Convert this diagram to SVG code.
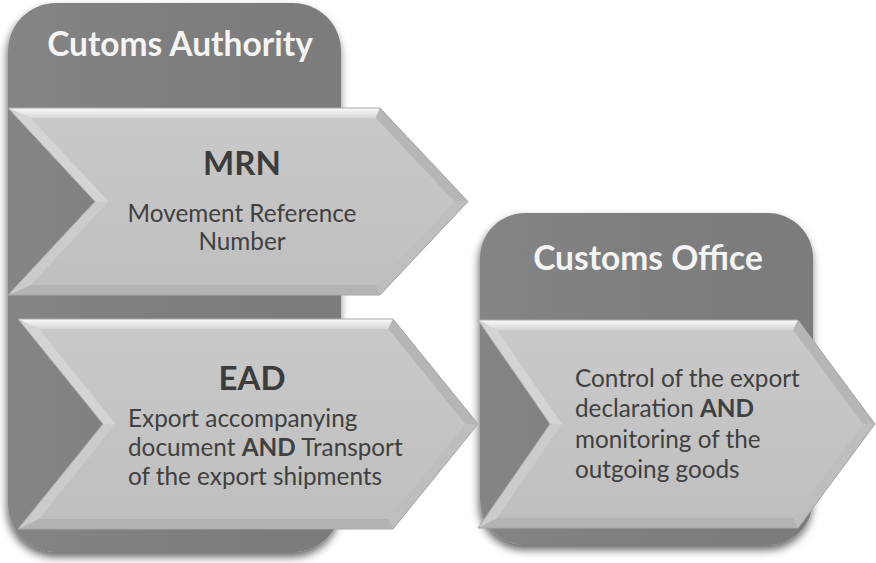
<svg xmlns="http://www.w3.org/2000/svg" width="876" height="563" viewBox="0 0 876 563">
<defs>
<style>
.hdr{font-family:Lato,"Open Sans","Liberation Sans",sans-serif;font-weight:bold;font-size:33.5px;fill:#f4f4f4;text-anchor:middle}
.ttl{font-family:Lato,"Open Sans","Liberation Sans",sans-serif;font-weight:bold;font-size:33px;fill:#3c3c3c;text-anchor:middle}
.body{font-family:Lato,"Open Sans","Liberation Sans",sans-serif;font-size:24.3px;fill:#404040}
.mid{text-anchor:middle}
.b{font-weight:bold}
.cont{fill:url(#contGrad);filter:url(#shadow)}
.face{fill:url(#faceGrad)}
.ftop{fill:url(#topGrad)}
.ful{fill:#d4d4d4}
.fll{fill:#cbcbcb}
.fur{fill:#b6b6b6}
.flr{fill:#bebebe}
.fbot{fill:#b3b3b3}
.edge{fill:none;stroke:#a8a8a8;stroke-width:1}
</style>
<linearGradient id="contGrad" x1="0" y1="0" x2="1" y2="0">
<stop offset="0" stop-color="#858585"/>
<stop offset="0.5" stop-color="#7e7e7e"/>
<stop offset="1" stop-color="#7b7b7b"/>
</linearGradient>
<linearGradient id="faceGrad" x1="0" y1="0" x2="0" y2="1">
<stop offset="0" stop-color="#c9c9c9"/>
<stop offset="1" stop-color="#bfbfbf"/>
</linearGradient>
<linearGradient id="topGrad" x1="0" y1="0" x2="0" y2="1">
<stop offset="0" stop-color="#fafafa"/>
<stop offset="1" stop-color="#d6d6d6"/>
</linearGradient>
<filter id="shadow" x="-10%" y="-10%" width="125%" height="125%">
<feGaussianBlur in="SourceAlpha" stdDeviation="4"/>
<feOffset dx="-1" dy="5" result="b"/>
<feComponentTransfer><feFuncA type="linear" slope="0.6"/></feComponentTransfer>
<feMerge><feMergeNode/><feMergeNode in="SourceGraphic"/></feMerge>
</filter>
</defs>
<rect width="876" height="563" fill="#ffffff"/>

<g id="customs-authority">
<rect class="cont" x="8" y="3" width="333" height="549" rx="48" ry="48"/>
<text class="hdr" x="180" y="56">Cutoms Authority</text>
</g>

<g id="customs-office">
<rect class="cont" x="480" y="213" width="333" height="332" rx="45" ry="45"/>
<text class="hdr" x="648" y="270">Customs Office</text>
</g>

<g id="mrn">
<polygon class="face" points="8,108 380,108 468,201.5 380,295 8,295 95,201.5"/>
<polygon class="ftop" points="8,108 380,108 375.7,118 31,118"/>
<polygon class="fur" points="380,108 468,201.5 454.3,201.5 375.7,118"/>
<polygon class="flr" points="468,201.5 380,295 375.7,285 454.3,201.5"/>
<polygon class="fbot" points="380,295 8,295 31,285 375.7,285"/>
<polygon class="fll" points="8,295 95,201.5 108.7,201.5 31,285"/>
<polygon class="ful" points="95,201.5 8,108 31,118 108.7,201.5"/>
<polygon class="face" points="31,118 375.7,118 454.3,201.5 375.7,285 31,285 108.7,201.5"/>
<polygon class="edge" points="8,108 380,108 468,201.5 380,295 8,295 95,201.5"/>
<text class="ttl" x="242" y="175">MRN</text>
<text class="body mid" x="242" y="222">Movement Reference</text>
<text class="body mid" x="242" y="250">Number</text>
</g>

<g id="ead">
<polygon class="face" points="18,319 393,319 478,424 393,529 18,529 103,424"/>
<polygon class="ftop" points="18,319 393,319 388.2,329 39,329"/>
<polygon class="fur" points="393,319 478,424 465.1,424 388.2,329"/>
<polygon class="flr" points="478,424 393,529 388.2,519 465.1,424"/>
<polygon class="fbot" points="393,529 18,529 39,519 388.2,519"/>
<polygon class="fll" points="18,529 103,424 115.9,424 39,519"/>
<polygon class="ful" points="103,424 18,319 39,329 115.9,424"/>
<polygon class="face" points="39,329 388.2,329 465.1,424 388.2,519 39,519 115.9,424"/>
<polygon class="edge" points="18,319 393,319 478,424 393,529 18,529 103,424"/>
<text class="ttl" x="252" y="390">EAD</text>
<text class="body" x="128" y="427">Export accompanying</text>
<text class="body" x="128" y="456">document <tspan class="b">AND</tspan> Transport</text>
<text class="body" x="128" y="485">of the export shipments</text>
</g>

<g id="control">
<polygon class="face" points="478,320 798,320 875,424 798,528 478,528 550,424"/>
<polygon class="ftop" points="478,320 798,320 793,330 497.1,330"/>
<polygon class="fur" points="798,320 875,424 862.6,424 793,330"/>
<polygon class="flr" points="875,424 798,528 793,518 862.6,424"/>
<polygon class="fbot" points="798,528 478,528 497.1,518 793,518"/>
<polygon class="fll" points="478,528 550,424 562.2,424 497.1,518"/>
<polygon class="ful" points="550,424 478,320 497.1,330 562.2,424"/>
<polygon class="face" points="497.1,330 793,330 862.6,424 793,518 497.1,518 562.2,424"/>
<polygon class="edge" points="478,320 798,320 875,424 798,528 478,528 550,424"/>
<text class="body" x="575" y="387">Control of the export</text>
<text class="body" x="575" y="417">declaration <tspan class="b">AND</tspan></text>
<text class="body" x="575" y="448">monitoring of the</text>
<text class="body" x="575" y="478">outgoing goods</text>
</g>

<g id="connectors"></g>
</svg>
